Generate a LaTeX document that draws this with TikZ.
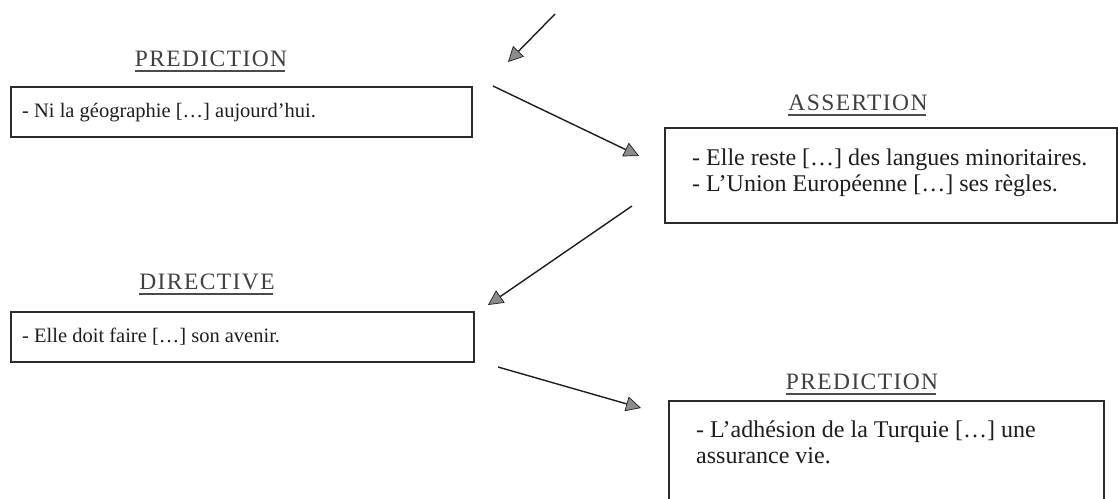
\documentclass[tikz,border=0pt]{standalone}
\usepackage{fontspec}
\setmainfont{Liberation Serif}
\usetikzlibrary{arrows.meta,calc}
\definecolor{ink}{HTML}{1E1E1E}
\definecolor{frame}{HTML}{2B2B2B}
\definecolor{tipfill}{HTML}{8C8C8C}
\begin{document}
\begin{tikzpicture}[x=1pt,y=-1pt,
  box/.style={draw=frame, line width=1.6pt, inner sep=0pt, anchor=north west},
  bodyL/.style={anchor=base west, inner sep=0pt, text=ink, align=left,
    font=\fontsize{20.5}{24.5}\selectfont},
  bodyR/.style={anchor=north west, inner sep=0pt, text=ink, align=left,
    font=\fontsize{24}{25.5}\selectfont},
  head/.style={anchor=base, inner sep=0pt, text=ink!85,
    font=\fontsize{23.5}{27}\selectfont\addfontfeature{LetterSpace=6}},
  ul/.style={draw=ink!80, line width=1.3pt},
  link/.style={draw=ink, line width=1.4pt,
    -{Triangle[length=15pt,width=15pt,line width=0.7pt,fill=tipfill]}},
]
\clip (0,0) rectangle (1118,498);
\fill[white] (0,0) rectangle (1118,498);

% headings
\node[head] (h1) at (211,66) {PREDICTION};
\node[head] (h2) at (858,110) {ASSERTION};
\node[head] (h3) at (207,289) {DIRECTIVE};
\node[head] (h4) at (862,389) {PREDICTION};
\foreach \h in {h1,h2,h3,h4}
  \draw[ul] ($(\h.base west)+(0,5)$) -- ($(\h.base east)+(-2,5)$);

% boxes
\node[box, minimum width=461pt, minimum height=50pt] (b1) at (10,86) {};
\node[box, minimum width=452pt, minimum height=95pt] (b2) at (664,127) {};
\node[box, minimum width=463pt, minimum height=50pt] (b3) at (10,311) {};
\node[box, minimum width=435pt, minimum height=110pt] (b4) at (668,400) {};

% box texts
\node[bodyL] (t1) at ($(b1.north west)+(12,31)$) {- Ni la géographie […] aujourd’hui.};
\node[bodyR] (t2) at ($(b2.north west)+(28,22)$)
  {- Elle reste […] des langues minoritaires.\\- L’Union Européenne […] ses règles.};
\node[bodyL] (t3) at ($(b3.north west)+(12,31)$) {- Elle doit faire […] son avenir.};
\node[bodyR] (t4) at ($(b4.north west)+(28,21)$)
  {- L’adhésion de la Turquie […] une\\assurance vie.};

% arrows between the blocks
\coordinate (a0s) at (555,14);  \coordinate (a0e) at (508,62);
\coordinate (a1s) at (493,86);  \coordinate (a1e) at (639,156);
\coordinate (a2s) at (632,206); \coordinate (a2e) at (488,305);
\coordinate (a3s) at (498,367); \coordinate (a3e) at (641,408);
\draw[link] (a0s) -- (a0e);
\draw[link] (a1s) -- (a1e);
\draw[link] (a2s) -- (a2e);
\draw[link] (a3s) -- (a3e);
\end{tikzpicture}
\end{document}
